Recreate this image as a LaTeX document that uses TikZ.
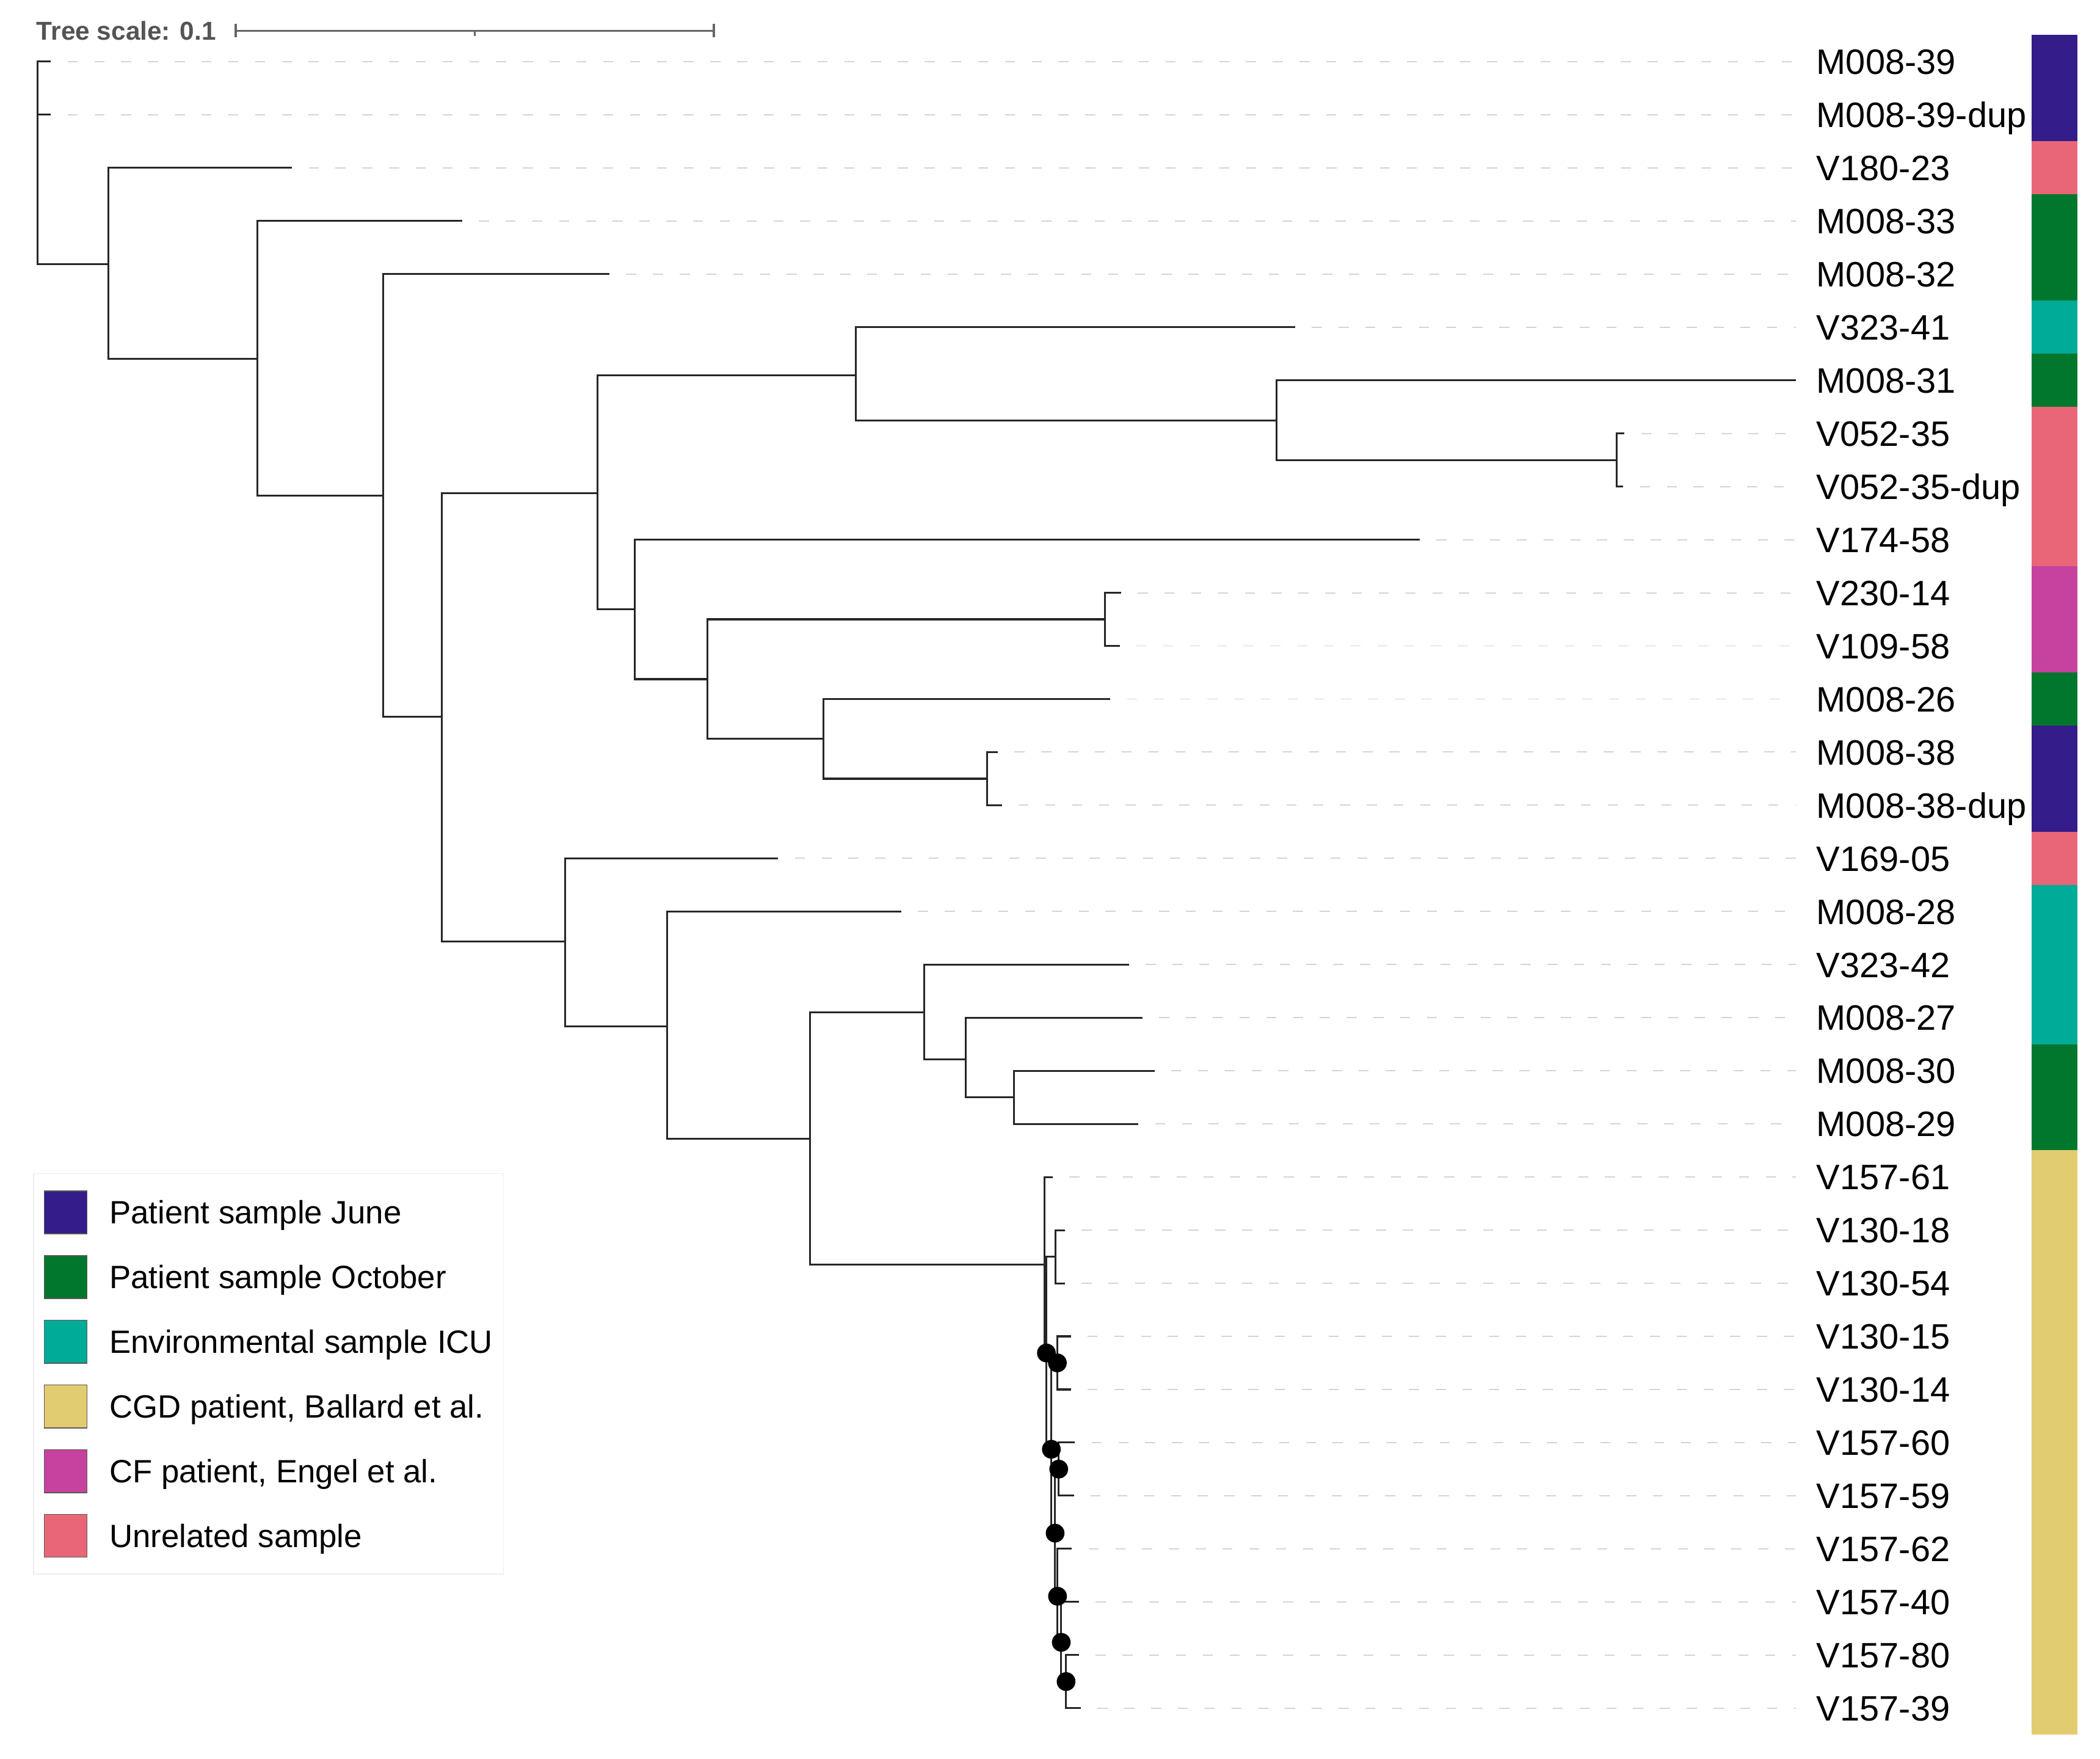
\documentclass[tikz,border=0pt]{standalone}
\usepackage{fontspec}
\setmainfont{Liberation Sans}
\usetikzlibrary{positioning}

\definecolor{june}{HTML}{341C8A}
\definecolor{october}{HTML}{00772C}
\definecolor{icu}{HTML}{00AB98}
\definecolor{cgd}{HTML}{E1CC70}
\definecolor{cfpat}{HTML}{C5429E}
\definecolor{unrel}{HTML}{E86677}

\tikzset{
  branch/.style={line width=0.8pt,draw=black!85},
  leader/.style={line width=0.5pt,draw=black!17,dash pattern=on 0.15cm off 0.25cm,dash phase=0.15cm},
  leaflabel/.style={anchor=west,inner xsep=0.3cm,inner ysep=0pt,text height=0.378cm,text depth=0cm,font=\fontsize{15}{18}\selectfont},
  scalebar/.style={line width=0.8pt,draw=black!60},
  swatch/.style={draw=black!65,line width=0.4pt,minimum size=0.64cm,inner sep=0pt},
  legtext/.style={anchor=west,inner sep=0pt,text height=0.345cm,text depth=0cm,font=\fontsize{13.7}{16}\selectfont},
}

\begin{document}
\begin{tikzpicture}[x=0.02cm,y=-0.02cm]
\useasboundingbox (0,0) rectangle (1568,1313);

% Tree scale
\node[anchor=west,inner sep=0pt,text=black!67,font=\bfseries\fontsize{11}{13}\selectfont] (scl) at (27,23) {Tree scale: 0.1};
\coordinate (s0) at (176,23);
\coordinate (sm) at (354.5,23);
\coordinate (s1) at (533,23);
\draw[scalebar] (s0) -- (s1);
\draw[scalebar] (s0) ++(0,-5) -- ++(0,10);
\draw[scalebar] (s1) ++(0,-5) -- ++(0,10);
\draw[scalebar] (sm) -- ++(0,4);

% Leaves, labels and colour strip
\foreach \lab/\col/\tip [count=\i from 0] in {
  M008-39/june/38, M008-39-dup/june/38, V180-23/unrel/218,
  M008-33/october/345, M008-32/october/455, V323-41/icu/967,
  M008-31/october/1341, V052-35/unrel/1213, V052-35-dup/unrel/1212,
  V174-58/unrel/1060, V230-14/cfpat/837, V109-58/cfpat/836,
  M008-26/october/829, M008-38/june/745, M008-38-dup/june/748,
  V169-05/unrel/581, M008-28/icu/673, V323-42/icu/843,
  M008-27/icu/853, M008-30/october/862, M008-29/october/850,
  V157-61/cgd/786, V130-18/cgd/795, V130-54/cgd/795,
  V130-15/cgd/799.5, V130-14/cgd/799.5, V157-60/cgd/802.6,
  V157-59/cgd/801.8, V157-62/cgd/800.3, V157-40/cgd/805.6,
  V157-80/cgd/805.6, V157-39/cgd/807}{
  \pgfmathsetmacro{\yy}{46+39.65*\i}
  \coordinate (t\i) at (\tip,\yy);
  \node[leaflabel] (L\i) at (1341,\yy) {\lab};
  \draw[leader] (t\i) -- (L\i.west);
  \fill[\col] (1517,\yy-19.9) rectangle (1551,\yy+19.9);
}

% Internal nodes
\coordinate (R) at (28,121.5);
\coordinate (N1) at (81,197);
\coordinate (N2) at (192,268);
\coordinate (N3) at (286,370);
\coordinate (N4) at (330,535);
\coordinate (N5) at (446,368);
\coordinate (N6) at (639,280);
\coordinate (N7) at (953,314);
\coordinate (N8) at (1207,343.4);
\coordinate (N9) at (474,455);
\coordinate (N10) at (528,507);
\coordinate (N11) at (825,462.3);
\coordinate (N12) at (615,551.6);
\coordinate (N13) at (737,581.3);
\coordinate (N14) at (422,703);
\coordinate (N15) at (498,766);
\coordinate (N16) at (605,850);
\coordinate (N17) at (690,755.6);
\coordinate (N18) at (721,790.8);
\coordinate (N19) at (757,819.2);
\coordinate (N20) at (780,944);
\coordinate (P1) at (781.3,1010);
\coordinate (N22) at (788,938.1);
\coordinate (Q5) at (785,1081.9);
\coordinate (N23) at (789.5,1017.4);
\coordinate (Q3) at (787.8,1144.5);
\coordinate (Q4) at (790.5,1096.7);
\coordinate (Q2) at (789.6,1191.6);
\coordinate (Q1) at (792.4,1226);
\coordinate (NL) at (796,1255.3);

% Branches
\draw[branch] (R) |- (t0);
\draw[branch] (R) |- (t1);
\draw[branch] (R) |- (N1);
\draw[branch] (N1) |- (t2);
\draw[branch] (N1) |- (N2);
\draw[branch] (N2) |- (t3);
\draw[branch] (N2) |- (N3);
\draw[branch] (N3) |- (t4);
\draw[branch] (N3) |- (N4);
\draw[branch] (N4) |- (N5);
\draw[branch] (N4) |- (N14);
\draw[branch] (N5) |- (N6);
\draw[branch] (N5) |- (N9);
\draw[branch] (N6) |- (t5);
\draw[branch] (N6) |- (N7);
\draw[branch] (N7) |- (t6);
\draw[branch] (N7) |- (N8);
\draw[branch] (N8) |- (t7);
\draw[branch] (N8) |- (t8);
\draw[branch] (N9) |- (t9);
\draw[branch] (N9) |- (N10);
\draw[branch] (N10) |- (N11);
\draw[branch] (N10) |- (N12);
\draw[branch] (N11) |- (t10);
\draw[branch] (N11) |- (t11);
\draw[branch] (N12) |- (t12);
\draw[branch] (N12) |- (N13);
\draw[branch] (N13) |- (t13);
\draw[branch] (N13) |- (t14);
\draw[branch] (N14) |- (t15);
\draw[branch] (N14) |- (N15);
\draw[branch] (N15) |- (t16);
\draw[branch] (N15) |- (N16);
\draw[branch] (N16) |- (N17);
\draw[branch] (N16) |- (N20);
\draw[branch] (N17) |- (t17);
\draw[branch] (N17) |- (N18);
\draw[branch] (N18) |- (t18);
\draw[branch] (N18) |- (N19);
\draw[branch] (N19) |- (t19);
\draw[branch] (N19) |- (t20);
\draw[branch] (N20) |- (t21);
\draw[branch] (N20) |- (P1);
\draw[branch] (P1) |- (N22);
\draw[branch] (P1) |- (Q5);
\draw[branch] (N22) |- (t22);
\draw[branch] (N22) |- (t23);
\draw[branch] (Q5) |- (N23);
\draw[branch] (Q5) |- (Q3);
\draw[branch] (N23) |- (t24);
\draw[branch] (N23) |- (t25);
\draw[branch] (Q3) |- (Q4);
\draw[branch] (Q3) |- (Q2);
\draw[branch] (Q4) |- (t26);
\draw[branch] (Q4) |- (t27);
\draw[branch] (Q2) |- (t28);
\draw[branch] (Q2) |- (Q1);
\draw[branch] (Q1) |- (t29);
\draw[branch] (Q1) |- (NL);
\draw[branch] (NL) |- (t30);
\draw[branch] (NL) |- (t31);

% Node markers
\fill (P1) circle (0.14cm);
\fill (N23) circle (0.14cm);
\fill (Q5) circle (0.14cm);
\fill (Q4) circle (0.14cm);
\fill (Q3) circle (0.14cm);
\fill (Q2) circle (0.14cm);
\fill (Q1) circle (0.14cm);
\fill (NL) circle (0.14cm);

% Legend
\draw[draw=black!7,fill=white] (25,876) rectangle (376,1175);
\node[swatch,fill=june] (sw1) at (49,905) {};
\node[swatch,fill=october] (sw2) at (49,953.3) {};
\node[swatch,fill=icu] (sw3) at (49,1001.6) {};
\node[swatch,fill=cgd] (sw4) at (49,1049.9) {};
\node[swatch,fill=cfpat] (sw5) at (49,1098.2) {};
\node[swatch,fill=unrel] (sw6) at (49,1146.5) {};
\node[legtext,right=0.32cm of sw1] (lg1) {Patient sample June};
\node[legtext,right=0.32cm of sw2] (lg2) {Patient sample October};
\node[legtext,right=0.32cm of sw3] (lg3) {Environmental sample ICU};
\node[legtext,right=0.32cm of sw4] (lg4) {CGD patient, Ballard et al.};
\node[legtext,right=0.32cm of sw5] (lg5) {CF patient, Engel et al.};
\node[legtext,right=0.32cm of sw6] (lg6) {Unrelated sample};

\end{tikzpicture}
\end{document}
